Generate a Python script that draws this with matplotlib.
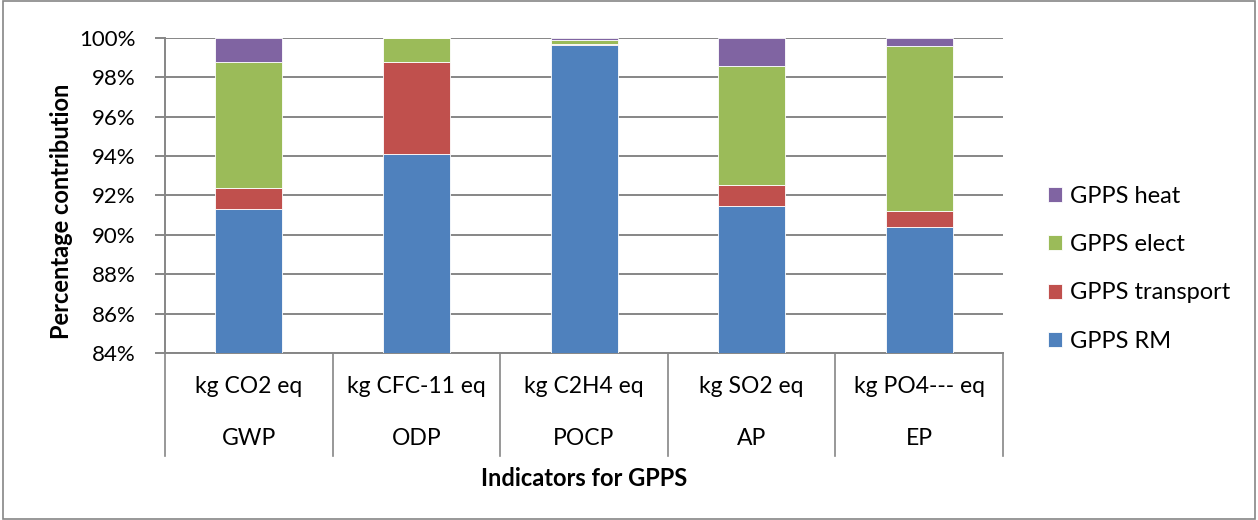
import numpy as np
import matplotlib.pyplot as plt
from matplotlib.patches import Rectangle

plt.rcParams['font.family'] = ['Lato', 'DejaVu Sans']

units = ["kg CO2 eq", "kg CFC-11 eq", "kg C2H4 eq", "kg SO2 eq", "kg PO4--- eq"]
indicators = ["GWP", "ODP", "POCP", "AP", "EP"]

rm = [91.30, 94.11, 99.62, 91.45, 90.41]
transport = [1.09, 4.65, 0.07, 1.07, 0.81]
elect = [6.39, 1.24, 0.22, 6.08, 8.39]
heat = [1.22, 0.00, 0.09, 1.40, 0.39]

series = [("GPPS RM", rm, "#4F81BD"),
          ("GPPS transport", transport, "#C0504D"),
          ("GPPS elect", elect, "#9BBB59"),
          ("GPPS heat", heat, "#8064A2")]

grid_c = "#868686"
fs = 16.5

fig = plt.figure(figsize=(12.58, 5.2), dpi=100)
ax = fig.add_axes([0.1312, 0.3212, 0.6661, 0.6058])

x = np.arange(len(units))
bottom = np.zeros(len(units))
handles = []
for name, vals, col in series:
    b = ax.bar(x, vals, 0.4, bottom=bottom, color=col, edgecolor="white",
               linewidth=0.6, label=name, zorder=3)
    handles.append(b)
    bottom += np.array(vals)

ax.set_ylim(84, 100)
ax.set_xlim(-0.5, len(units) - 0.5)
ax.set_yticks(np.arange(84, 101, 2))
ax.set_yticklabels([f"{v}%" for v in range(84, 101, 2)], fontsize=16)
ax.yaxis.grid(True, color=grid_c, linewidth=1.4, zorder=0)
ax.tick_params(axis="y", length=7, color=grid_c, width=1.4, pad=14)

for s in ["top", "right"]:
    ax.spines[s].set_visible(False)
for s in ["left", "bottom"]:
    ax.spines[s].set_color(grid_c)
    ax.spines[s].set_linewidth(1.4)

# two-level category axis
ax.set_xticks([])
for i in range(len(units) + 1):
    ax.plot([i - 0.5, i - 0.5], [0, -0.327], color=grid_c, lw=1.2,
            transform=ax.get_xaxis_transform(), clip_on=False)
for i, (u, ind) in enumerate(zip(units, indicators)):
    ax.text(i, -0.108, u, ha="center", va="center", fontsize=fs,
            transform=ax.get_xaxis_transform())
    ax.text(i, -0.27, ind, ha="center", va="center", fontsize=fs,
            transform=ax.get_xaxis_transform())

ax.text(0.5, -0.397, "Indicators for GPPS", ha="center", va="center",
        fontsize=17, fontweight="bold", transform=ax.transAxes)
ax.set_ylabel("Percentage contribution", fontsize=17, fontweight="bold")
ax.yaxis.set_label_coords(-0.11, 0.45)

leg = fig.legend(handles[::-1], [s[0] for s in series][::-1],
                 loc="center left", bbox_to_anchor=(0.816, 0.483),
                 frameon=False, fontsize=17, handlelength=0.6,
                 handleheight=0.6, labelspacing=1.15, handletextpad=0.35)

fig.patches.append(Rectangle((0.002, 0.002), 0.996, 0.996, fill=False,
                             edgecolor=grid_c, lw=1.2,
                             transform=fig.transFigure))

fig.savefig("out.png", dpi=100, facecolor="white")
